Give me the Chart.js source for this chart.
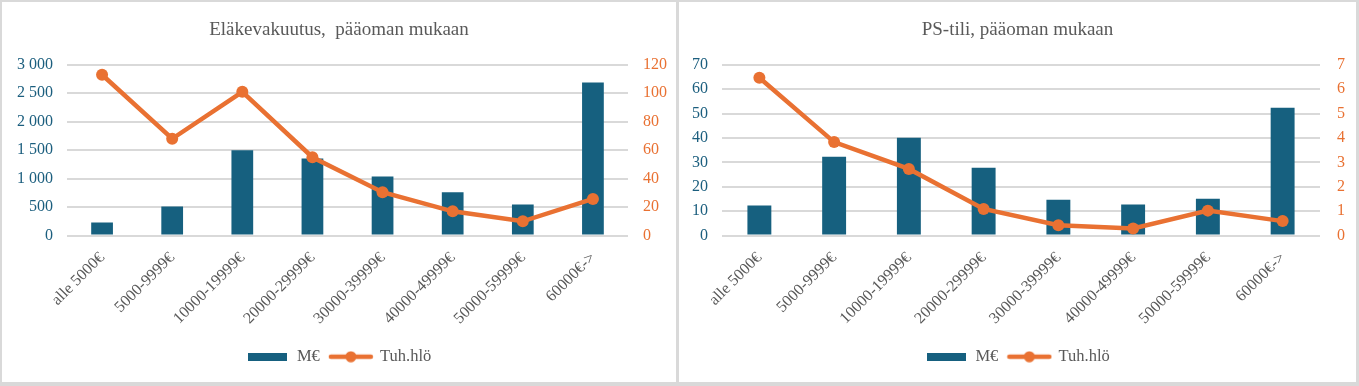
<!DOCTYPE html>
<html>
<head>
<meta charset="utf-8">
<script src="https://cdn.jsdelivr.net/npm/chart.js@4"></script>
<style>
html,body{margin:0;padding:0;background:#fff;}
#wrap{position:relative;width:1359px;height:386px;background:#d9d9d9;overflow:hidden;}
.panel{position:absolute;top:2px;height:380px;background:#fff;}
#p1{left:2px;width:674px;}
#p2{left:679px;width:677px;}
canvas{display:block;}
</style>
</head>
<body>
<div id="wrap">
  <div class="panel" id="p1"><canvas id="c1" width="674" height="380"></canvas></div>
  <div class="panel" id="p2"><canvas id="c2" width="677" height="380"></canvas></div>
</div>
<script>
// ---- data ----
const categories = ['alle 5000€','5000-9999€','10000-19999€','20000-29999€','30000-39999€','40000-49999€','50000-59999€','60000€->'];
const elakeTitle = 'Eläkevakuutus,  pääoman mukaan';
const elakeMeur = [228, 509, 1497, 1352, 1035, 758, 544, 2690];
const elakeHlo  = [113, 68, 101, 55, 30.4, 17, 10, 25.7];
const psTitle = 'PS-tili, pääoman mukaan';
const psMeur = [12.3, 32.3, 40.1, 27.8, 14.7, 12.7, 15.1, 52.4];
const psHlo  = [6.47, 3.83, 2.73, 1.09, 0.42, 0.29, 1.02, 0.59];
const seriesNames = ['M€', 'Tuh.hlö'];

// ---- style ----
const BLUE = '#16607F';
const BLUE_TXT = '#1B5E7E';
const ORANGE = '#E97132';
const GREY_TXT = '#595959';
const GRID = '#d9d9d9';
Chart.defaults.font.family = "'Liberation Serif', 'Times New Roman', serif";
Chart.defaults.color = GREY_TXT;

function fmtThousands(v){ return String(v).replace(/\B(?=(\d{3})+(?!\d))/g, ' '); }

function barSwatch(){
  const c = document.createElement('canvas'); c.width = 39; c.height = 8;
  const x = c.getContext('2d'); x.fillStyle = BLUE; x.fillRect(0,0,39,8); return c;
}
function lineSwatch(){
  const c = document.createElement('canvas'); c.width = 46; c.height = 12;
  const x = c.getContext('2d');
  x.strokeStyle = ORANGE; x.lineWidth = 4.5; x.lineCap = 'round';
  x.beginPath(); x.moveTo(3,6); x.lineTo(43,6); x.stroke();
  x.fillStyle = ORANGE; x.beginPath(); x.arc(23,6,5.5,0,Math.PI*2); x.fill();
  return c;
}

function makeChart(id, title, bars, line, cfg){
  return new Chart(document.getElementById(id), {
    data: {
      labels: categories,
      datasets: [
        { type:'bar', label: seriesNames[0], data: bars, yAxisID:'y', backgroundColor: BLUE,
          barPercentage: cfg.barPct, categoryPercentage: 1, order: 2 },
        { type:'line', label: seriesNames[1], data: line, yAxisID:'y1', borderColor: ORANGE,
          backgroundColor: ORANGE, borderWidth: 4.5, pointRadius: 6, pointBorderWidth: 0,
          pointBackgroundColor: ORANGE, pointBorderColor: ORANGE, tension: 0, order: 1 }
      ]
    },
    options: {
      responsive: false,
      animation: false,
      layout: { padding: { left: 0, right: 0, top: 0, bottom: 7 } },
      plugins: {
        tooltip: { enabled: false },
        title: { display: true, text: title, color: GREY_TXT,
                 font: { size: 19, weight: 'normal' }, padding: { top: 17, bottom: 23 } },
        legend: {
          position: 'bottom',
          labels: {
            usePointStyle: true, pointStyleWidth: 42, boxHeight: 16, padding: 10,
            font: { size: 16.5 }, color: GREY_TXT,
            generateLabels: () => [
              { text: seriesNames[0], pointStyle: barSwatch(), fillStyle: BLUE, strokeStyle: BLUE,
                lineWidth: 0, fontColor: GREY_TXT, datasetIndex: 0, hidden: false },
              { text: seriesNames[1], pointStyle: lineSwatch(), fillStyle: ORANGE, strokeStyle: ORANGE,
                lineWidth: 0, fontColor: GREY_TXT, datasetIndex: 1, hidden: false }
            ]
          }
        }
      },
      scales: {
        x: {
          offset: true,
          grid: { display: false, drawTicks: false },
          border: { display: false },
          ticks: { autoSkip: false, minRotation: 45, maxRotation: 45, padding: 13,
                   color: GREY_TXT, font: { size: 16 } },
          afterFit: s => { s.height = 103; }
        },
        y: {
          position: 'left', min: 0, max: cfg.yMax,
          grid: { color: GRID, lineWidth: 2, drawTicks: false },
          border: { display: false },
          ticks: { stepSize: cfg.yStep, padding: 14, color: BLUE_TXT, font: { size: 16 },
                   callback: v => fmtThousands(v) },
          afterFit: s => { s.width = cfg.leftW; }
        },
        y1: {
          position: 'right', min: 0, max: cfg.y1Max,
          grid: { display: false, drawTicks: false },
          border: { display: false },
          ticks: { stepSize: cfg.y1Step, padding: cfg.rPad, color: ORANGE, font: { size: 16 } },
          afterFit: s => { s.width = cfg.rightW; }
        }
      }
    }
  });
}

makeChart('c1', elakeTitle, elakeMeur, elakeHlo,
  { barPct: 0.31, yMax: 3000, yStep: 500, y1Max: 120, y1Step: 20, leftW: 65, rightW: 48, rPad: 15 });
makeChart('c2', psTitle, psMeur, psHlo,
  { barPct: 0.32, yMax: 70, yStep: 10, y1Max: 7, y1Step: 1, leftW: 43, rightW: 36, rPad: 17 });
</script>
</body>
</html>
